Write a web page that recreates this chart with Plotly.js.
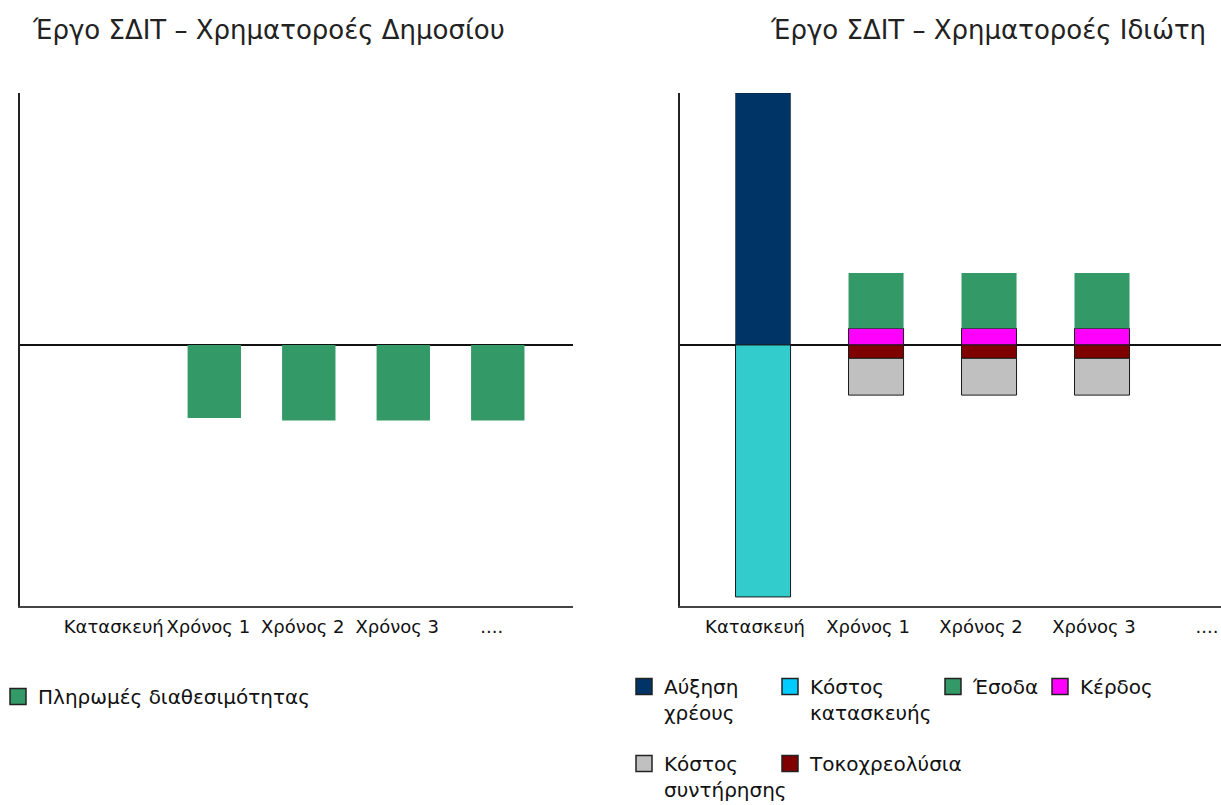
<!DOCTYPE html>
<html>
<head>
<meta charset="utf-8">
<script src="https://cdn.plot.ly/plotly-3.0.1.min.js"></script>
<style>html,body{margin:0;padding:0;background:#fff;}#chart{width:1221px;height:805px;}</style>
</head>
<body>
<div id="chart"></div>
<script>
// ---- data ----
const categories = ['Κατασκευή', 'Χρόνος 1', 'Χρόνος 2', 'Χρόνος 3', '....'];
const publicPayments = [null, -29, -30, -30, -30];        // Πληρωμές διαθεσιμότητας
const debtIncrease = [100, null, null, null, null];        // Αύξηση χρέους
const constructionCost = [-100, null, null, null, null];   // Κόστος κατασκευής
const profit = [null, 6.6, 6.6, 6.6, null];                // Κέρδος
const revenue = [null, 22, 22, 22, null];                  // Έσοδα
const debtService = [null, -5.3, -5.3, -5.3, null];        // Τοκοχρεολύσια
const maintenanceCost = [null, -14.6, -14.6, -14.6, null]; // Κόστος συντήρησης

const titleLeft = 'Έργο ΣΔΙΤ – Χρηματοροές Δημοσίου';
const titleRight = 'Έργο ΣΔΙΤ – Χρηματοροές Ιδιώτη';

const W = 1221, H = 805;
const tickFont = {family: 'DejaVu Sans', size: 18, color: '#111'};
const legFont = {family: 'DejaVu Sans', size: 20, color: '#111'};
const edge = {color: '#1a1a1a', width: 1};

function bar(y, xa, ya, w, color, line) {
  return {type: 'bar', x: categories, y: y, xaxis: xa, yaxis: ya, width: w,
          marker: {color: color, line: line}, showlegend: false};
}
// legend-only entries (a single empty point, nothing is drawn), so the swatches can be drawn at the reference's size
function key(name, color, legendId, xa, ya) {
  return {type: 'scatter', mode: 'markers', x: [null], y: [null], xaxis: xa, yaxis: ya, name: name,
          legend: legendId, showlegend: true,
          marker: {symbol: 'square', size: 16, color: color, line: {color: '#222', width: 1.5}}};
}

const traces = [
  bar(publicPayments, 'x', 'y', 0.565, '#339966', {width: 0}),
  bar(debtIncrease, 'x2', 'y2', 0.487, '#003366', {color: '#222', width: 0.5}),
  bar(constructionCost, 'x2', 'y2', 0.487, '#33CCCC', edge),
  bar(profit, 'x2', 'y2', 0.487, '#FF00FF', edge),
  bar(revenue, 'x2', 'y2', 0.487, '#339966', {width: 0}),
  bar(debtService, 'x2', 'y2', 0.487, '#800000', edge),
  bar(maintenanceCost, 'x2', 'y2', 0.487, '#C0C0C0', edge),
  key('Πληρωμές διαθεσιμότητας', '#339966', 'legend', 'x', 'y'),
  key('Αύξηση<br>χρέους', '#003366', 'legend2', 'x2', 'y2'),
  key('Κόστος<br>κατασκευής', '#00CCFF', 'legend3', 'x2', 'y2'),
  key('Έσοδα', '#339966', 'legend4', 'x2', 'y2'),
  key('Κέρδος', '#FF00FF', 'legend5', 'x2', 'y2'),
  key('Κόστος<br>συντήρησης', '#C0C0C0', 'legend6', 'x2', 'y2'),
  key('Τοκοχρεολύσια', '#800000', 'legend7', 'x2', 'y2')
];

const plotTop = 93, plotBottom = 606;
const ph = plotBottom - plotTop;
const py = p => (plotBottom - p) / ph; // pixel row -> paper y

const yBase = {
  range: [-103.6, 100], showticklabels: false, ticks: '', showgrid: false,
  zeroline: true, zerolinecolor: '#111', zerolinewidth: 2,
  showline: true, linecolor: '#222', linewidth: 2, fixedrange: true
};
const xBase = {
  type: 'category', showgrid: false, zeroline: false, ticks: '', tickangle: 0,
  showline: true, linecolor: '#444', linewidth: 2, tickfont: tickFont,
  ticklabelstandoff: 3, fixedrange: true
};
function leg(xPx, topPx) {
  return {orientation: 'v', x: xPx / W, xanchor: 'left', y: py(topPx), yanchor: 'top',
          font: legFont, bgcolor: 'rgba(0,0,0,0)', valign: 'top', borderwidth: 0};
}

const layout = {
  width: W, height: H,
  margin: {l: 0, r: 0, t: plotTop, b: H - plotBottom, pad: 0, autoexpand: false},
  paper_bgcolor: '#fff', plot_bgcolor: '#fff',
  barmode: 'relative',
  showlegend: true,
  font: {family: 'DejaVu Sans', color: '#111'},
  xaxis: Object.assign({}, xBase, {domain: [20 / W, 573 / W], anchor: 'y', range: [-1.056, 4.796], ticklabelshift: -6}),
  yaxis: Object.assign({}, yBase, {anchor: 'x'}),
  xaxis2: Object.assign({}, xBase, {domain: [680 / W, 1], anchor: 'y2', range: [-0.735, 4.053], ticklabelshift: -8}),
  yaxis2: Object.assign({}, yBase, {anchor: 'x2'}),
  legend: leg(-2, 677),
  legend2: leg(624, 667),
  legend3: leg(770, 667),
  legend4: leg(933, 667),
  legend5: leg(1040, 667),
  legend6: leg(624, 744),
  legend7: leg(770, 744),
  annotations: [
    {text: titleLeft, xref: 'paper', yref: 'paper', x: 30 / W, y: py(30), xanchor: 'left', yanchor: 'middle',
     showarrow: false, font: {family: 'DejaVu Sans', size: 26, color: '#222'}},
    {text: titleRight, xref: 'paper', yref: 'paper', x: 1208 / W, y: py(30), xanchor: 'right', yanchor: 'middle',
     showarrow: false, font: {family: 'DejaVu Sans', size: 26, color: '#222'}}
  ],
  hovermode: false
};

Plotly.newPlot('chart', traces, layout, {staticPlot: true, displayModeBar: false});
</script>
</body>
</html>
